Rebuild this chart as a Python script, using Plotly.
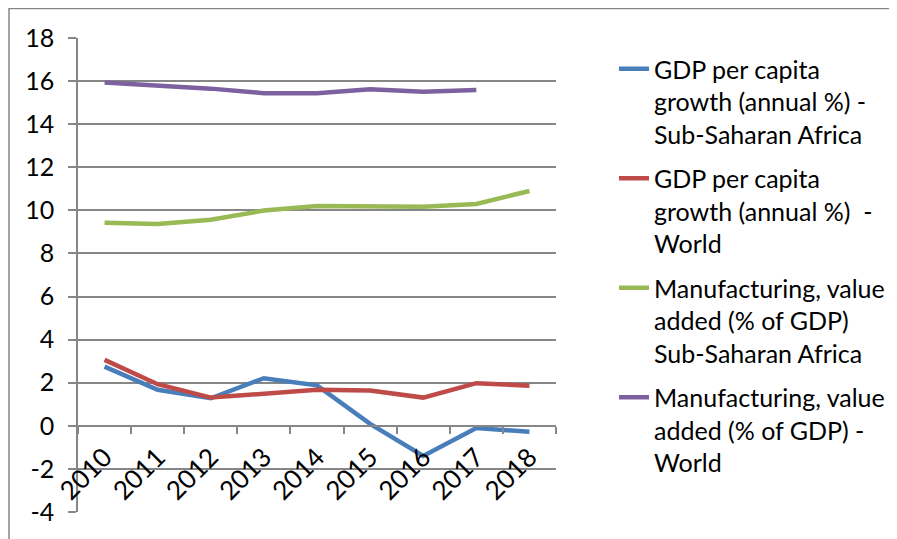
import plotly.graph_objects as go

years = ["2010", "2011", "2012", "2013", "2014", "2015", "2016", "2017", "2018"]
gdp_ssa = [2.75, 1.67, 1.28, 2.21, 1.88, 0.09, -1.4, -0.1, -0.28]
gdp_world = [3.06, 1.93, 1.31, 1.49, 1.67, 1.64, 1.31, 1.98, 1.86]
manu_ssa = [9.43, 9.37, 9.56, 9.99, 10.2, 10.19, 10.17, 10.3, 10.9]
manu_world = [15.93, 15.81, 15.65, 15.44, 15.44, 15.62, 15.5, 15.59, None]

y_tick_vals = [-4, -2, 0, 2, 4, 6, 8, 10, 12, 14, 16, 18]
y_tick_text = ["-4", "-2", "0", "2", "4", "6", "8", "10", "12", "14", "16", "18"]

names = [
    "GDP per capita<br>growth (annual %) -<br>Sub-Saharan Africa",
    "GDP per capita<br>growth (annual %)  -<br>World",
    "Manufacturing, value<br>added (% of GDP)<br>Sub-Saharan Africa",
    "Manufacturing, value<br>added (% of GDP) -<br>World",
]
colors = ["#4a7ebb", "#be4b48", "#98b954", "#7d60a0"]
series = [gdp_ssa, gdp_world, manu_ssa, manu_world]

FONT = "Lato"
FS = 25
fig = go.Figure()
for i, (nm, col, vals) in enumerate(zip(names, colors, series)):
    fig.add_trace(go.Scatter(
        x=years, y=vals, name=nm, mode="lines",
        line=dict(color=col, width=4.5),
        legendgroup=f"g{i}",
    ))

# page has an 8px body margin; figure drawn at offset (8, 8)
W, H = 889, 531
L, T = 70, 30
R = W - (556 - 8)
B = H - (512 - 8)
pw = W - L - R
ph = H - T - B


def px_x(x):
    return (x - 8 - L) / pw


def px_y(y):
    return (H - B - (y - 8)) / ph


fig.update_layout(
    width=W, height=H,
    margin=dict(l=L, r=R, t=T, b=B, pad=0, autoexpand=False),
    paper_bgcolor="white", plot_bgcolor="white",
    font=dict(family=FONT, size=FS, color="#000000"),
    showlegend=True,
    legend=dict(
        x=px_x(614), y=px_y(46), xanchor="left", yanchor="top",
        font=dict(family=FONT, size=FS, color="#000000"),
        valign="top", traceorder="grouped", tracegroupgap=9,
        bgcolor="rgba(0,0,0,0)",
    ),
    xaxis=dict(
        type="category", anchor="free", position=4 / 22,
        showline=True, linecolor="#868686", linewidth=1.5,
        showgrid=False, ticks="outside", ticklen=7, tickcolor="#868686",
        tickwidth=1.5, tickson="boundaries", tickangle=-45,
        tickfont=dict(family=FONT, size=26), range=[-0.5, 8.5],
        ticklabelstandoff=5, automargin=False,
    ),
    yaxis=dict(
        range=[-4, 18], tickmode="array", tickvals=y_tick_vals,
        ticktext=y_tick_text, domain=[0, 1],
        showline=True, linecolor="#868686", linewidth=1.5,
        showgrid=True, gridcolor="#868686", gridwidth=1.5,
        zeroline=False, ticks="outside", ticklen=8, tickcolor="#868686",
        tickwidth=1.5, ticklabelstandoff=9,
        tickfont=dict(family=FONT, size=FS), automargin=False,
    ),
    shapes=[dict(
        type="rect", xref="paper", yref="paper",
        x0=px_x(9), x1=2.0, y0=-1.0, y1=px_y(8.5),
        line=dict(color="#868686", width=1.5), fillcolor="rgba(0,0,0,0)",
        layer="below",
    )],
)

fig.write_html("out.html")
